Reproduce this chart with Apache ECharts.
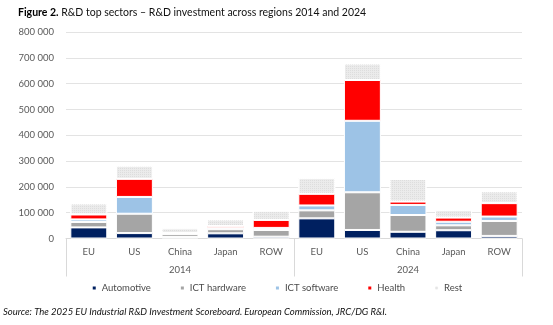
<!DOCTYPE html>
<html>
<head>
<meta charset="utf-8">
<script src="https://cdn.jsdelivr.net/npm/echarts@6/dist/echarts.min.js"></script>
<style>
  html, body { margin: 0; padding: 0; background: #fff; }
  #chart { width: 553px; height: 325px; }
</style>
</head>
<body>
<div id="chart"></div>
<script>
// Regions shown for each year, and the two year groups
const regions = ['EU', 'US', 'China', 'Japan', 'ROW'];
const years = ['2014', '2024'];

// R&D investment by sector, 2014 regions then 2024 regions
const automotive  = [43000, 21000, 6000, 20000, 7000, 78000, 33000, 26000, 32000, 10000];
const ictHardware = [21000, 75000, 11000, 16000, 26000, 31000, 146000, 65000, 19000, 58000];
const ictSoftware = [10000, 65000, 3000, 6000, 8000, 19000, 277000, 39000, 14000, 17000];
const health      = [19000, 70000, 1000, 6000, 31000, 45000, 158000, 13000, 16000, 52000];
const rest        = [43000, 51000, 19000, 26000, 36000, 61000, 64000, 88000, 29000, 46000];

const yTicks = { min: 0, max: 800000, interval: 100000 };

// one unique key per bar: "region|year"
const categories = [];
years.forEach(y => regions.forEach(r => categories.push(r + '|' + y)));

const FONT = 'Lato';
const fmtThousands = v => String(v).replace(/\B(?=(\d{3})+(?!\d))/g, ' ');

const chart = echarts.init(document.getElementById('chart'), null, { renderer: 'canvas' });

function bar(name, data, color, extra) {
  return Object.assign({
    name, type: 'bar', stack: 'total', data,
    barCategoryGap: '19%',
    itemStyle: { color, borderColor: '#ffffff', borderWidth: 1 },
    emphasis: { disabled: true }
  }, extra || {});
}

chart.setOption({
  animation: false,
  textStyle: { fontFamily: FONT },
  title: {
    left: 13, top: 2,
    text: '{b|Figure 2.} R&D top sectors – R&D investment across regions 2014 and 2024',
    textStyle: {
      fontFamily: FONT, fontSize: 10.5, fontWeight: 'normal', color: '#111',
      rich: { b: { fontFamily: FONT, fontSize: 10.5, fontWeight: 'bold', color: '#000' } }
    }
  },
  grid: { left: 66, right: 31, top: 32, bottom: 86.5, containLabel: false },
  legend: {
    bottom: 27, left: 'center',
    itemWidth: 5, itemHeight: 5, itemGap: 28,
    icon: 'rect',
    textStyle: { fontFamily: FONT, fontSize: 9.5, color: '#4a4a4a' },
    data: ['Automotive', 'ICT hardware', 'ICT software', 'Health', 'Rest']
  },
  xAxis: [
    {
      type: 'category', data: categories, position: 'bottom',
      axisLine: { lineStyle: { color: '#d9d9d9', width: 1 } },
      axisTick: { show: false },
      axisLabel: {
        interval: 0, margin: 8, fontFamily: FONT, fontSize: 9.5, color: '#595959',
        formatter: v => v.split('|')[0]
      }
    },
    {
      type: 'category', data: years, position: 'bottom',
      axisLine: { show: false },
      axisTick: { show: true, length: 38, lineStyle: { color: '#d9d9d9' } },
      axisLabel: { margin: 26, fontFamily: FONT, fontSize: 9.5, color: '#595959' }
    }
  ],
  yAxis: {
    type: 'value', min: yTicks.min, max: yTicks.max, interval: yTicks.interval,
    axisLine: { show: false }, axisTick: { show: false },
    splitLine: { lineStyle: { color: '#e3e3e3', width: 1 } },
    axisLabel: { margin: 12, fontFamily: FONT, fontSize: 9.5, color: '#595959', formatter: fmtThousands }
  },
  series: [
    bar('Automotive', automotive, '#002060'),
    bar('ICT hardware', ictHardware, '#a5a5a5'),
    bar('ICT software', ictSoftware, '#9dc3e6'),
    bar('Health', health, '#ff0000'),
    bar('Rest', rest, '#ebebeb', {
      itemStyle: {
        color: '#ebebeb', borderColor: '#ffffff', borderWidth: 1,
        decal: { symbol: 'rect', symbolSize: 1, dashArrayX: [1, 1], dashArrayY: [1, 1], color: '#dddddd' }
      }
    })
  ],
  graphic: [{
    type: 'text', left: 3, top: 307,
    style: {
      text: 'Source: The 2025 EU Industrial R&D Investment Scoreboard. European Commission, JRC/DG R&I.',
      font: 'italic 9.5px ' + FONT, fill: '#111'
    }
  }]
});
</script>
</body>
</html>
